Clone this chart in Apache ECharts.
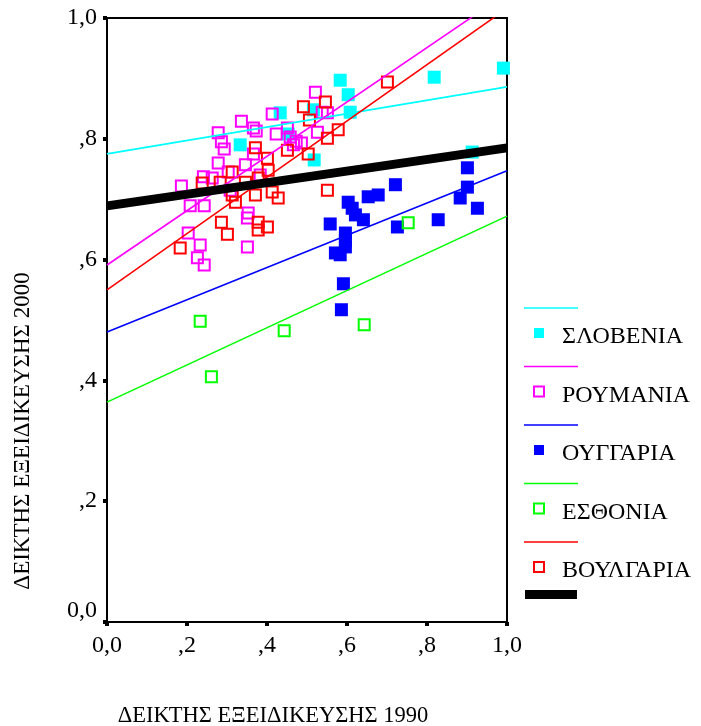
<!DOCTYPE html>
<html>
<head>
<meta charset="utf-8">
<script src="https://cdn.jsdelivr.net/npm/echarts@6/dist/echarts.min.js"></script>
<style>
html,body{margin:0;padding:0;background:#fff;}
#chart{width:701px;height:726px;}
</style>
</head>
<body>
<div id="chart"></div>
<script>
// ---- data ----
const countries = ['ΣΛΟΒΕΝΙΑ', 'ΡΟΥΜΑΝΙΑ', 'ΟΥΓΓΑΡΙΑ', 'ΕΣΘΟΝΙΑ', 'ΒΟΥΛΓΑΡΙΑ'];
const xTitle = 'ΔΕΙΚΤΗΣ ΕΞΕΙΔΙΚΕΥΣΗΣ 1990';
const yTitle = 'ΔΕΙΚΤΗΣ ΕΞΕΙΔΙΚΕΥΣΗΣ 2000';
const xTickLabels = ['0,0', ',2', ',4', ',6', ',8', '1,0'];
const yTickLabels = ['0,0', ',2', ',4', ',6', ',8', '1,0'];

const slovenia = [
  [0.333, 0.790], [0.433, 0.843], [0.453, 0.808], [0.518, 0.765], [0.516, 0.848],
  [0.583, 0.897], [0.603, 0.873], [0.608, 0.844], [0.818, 0.902], [0.913, 0.778],
  [0.991, 0.917]
];
const romania = [
  [0.186, 0.722], [0.208, 0.689], [0.243, 0.689], [0.203, 0.644], [0.233, 0.624],
  [0.226, 0.603], [0.243, 0.591], [0.241, 0.737], [0.278, 0.810], [0.286, 0.795],
  [0.293, 0.783], [0.278, 0.760], [0.303, 0.745], [0.336, 0.829], [0.366, 0.818],
  [0.373, 0.813], [0.346, 0.757], [0.353, 0.677], [0.351, 0.669], [0.351, 0.621],
  [0.383, 0.740], [0.413, 0.841], [0.423, 0.808], [0.451, 0.818], [0.458, 0.803],
  [0.473, 0.796], [0.486, 0.793], [0.521, 0.877], [0.526, 0.811], [0.538, 0.844],
  [0.551, 0.843], [0.308, 0.715], [0.263, 0.735], [0.366, 0.775], [0.466, 0.790]
];
const hungary = [
  [0.901, 0.752], [0.901, 0.720], [0.883, 0.702], [0.926, 0.685], [0.828, 0.666],
  [0.721, 0.724], [0.678, 0.707], [0.653, 0.704], [0.603, 0.695], [0.613, 0.685],
  [0.621, 0.674], [0.641, 0.666], [0.558, 0.659], [0.596, 0.644], [0.596, 0.632],
  [0.596, 0.621], [0.571, 0.611], [0.591, 0.560], [0.586, 0.517], [0.726, 0.654],
  [0.583, 0.608]
];
const estonia = [
  [0.233, 0.498], [0.261, 0.406], [0.443, 0.482], [0.643, 0.492], [0.753, 0.661]
];
const bulgaria = [
  [0.701, 0.894], [0.491, 0.853], [0.546, 0.861], [0.506, 0.831], [0.578, 0.815],
  [0.551, 0.801], [0.451, 0.781], [0.503, 0.775], [0.551, 0.715], [0.401, 0.768],
  [0.371, 0.785], [0.378, 0.735], [0.238, 0.727], [0.283, 0.728], [0.313, 0.745],
  [0.313, 0.707], [0.321, 0.695], [0.371, 0.707], [0.413, 0.712], [0.428, 0.702],
  [0.286, 0.662], [0.301, 0.642], [0.378, 0.662], [0.401, 0.654], [0.378, 0.649],
  [0.183, 0.619], [0.346, 0.728], [0.403, 0.748]
];

// fitted lines (start and end points)
const sloveniaFit = [[0, 0.775], [1, 0.886]];
const romaniaFit = [[0, 0.591], [1, 1.041]];
const hungaryFit = [[0, 0.480], [1, 0.747]];
const estoniaFit = [[0, 0.364], [1, 0.672]];
const bulgariaFit = [[0, 0.550], [1, 1.016]];
const totalFit = [[0, 0.689], [1, 0.785]];

// ---- styling ----
const colors = ['#00ffff', '#ff00ff', '#0000ff', '#00ff00', '#ff0000'];
const filled = [true, false, true, false, false];
const pointSets = [slovenia, romania, hungary, estonia, bulgaria];
const fitSets = [sloveniaFit, romaniaFit, hungaryFit, estoniaFit, bulgariaFit];
const FONT = '"Liberation Serif", "DejaVu Serif", serif';

const series = [];
pointSets.forEach((pts, i) => {
  series.push({
    type: 'scatter',
    name: countries[i],
    data: pts,
    symbol: 'rect',
    symbolSize: filled[i] ? 13 : 11,
    itemStyle: filled[i]
      ? { color: colors[i], opacity: 1 }
      : { color: 'rgba(0,0,0,0)', borderColor: colors[i], borderWidth: 2, opacity: 1 },
    z: 2,
    silent: true
  });
});
fitSets.forEach((f, i) => {
  series.push({
    type: 'line',
    data: f,
    symbol: 'none',
    clip: true,
    lineStyle: { color: colors[i], width: 1.6 },
    z: 3,
    silent: true
  });
});
series.push({
  type: 'line',
  data: totalFit,
  symbol: 'none',
  clip: true,
  lineStyle: { color: '#000', width: 9 },
  z: 4,
  silent: true
});

// legend graphics
const legendGraphics = [];
const legX = 524, legLineW = 54, legY0 = 308, legStep = 58.5;
countries.forEach((c, i) => {
  const ly = legY0 + i * legStep;
  legendGraphics.push({
    type: 'line', shape: { x1: legX, y1: ly, x2: legX + legLineW, y2: ly },
    style: { stroke: colors[i], lineWidth: 1.6 }
  });
  const sy = ly + 25;
  legendGraphics.push({
    type: 'rect', shape: { x: 539 - 5, y: sy - 5, width: 10, height: 10 },
    style: filled[i]
      ? { fill: colors[i] }
      : { fill: 'none', stroke: colors[i], lineWidth: 2 }
  });
  legendGraphics.push({
    type: 'text', x: 562, y: sy + 4,
    style: { text: c, font: '24px ' + FONT, fill: '#000', textVerticalAlign: 'middle', textAlign: 'left' }
  });
});
legendGraphics.push({
  type: 'rect', shape: { x: 525, y: 590, width: 52, height: 9 },
  style: { fill: '#000' }
});

const chart = echarts.init(document.getElementById('chart'), null, { renderer: 'canvas' });
chart.setOption({
  animation: false,
  backgroundColor: '#fff',
  grid: {
    left: 107, top: 18, width: 400, height: 604,
    show: true, borderColor: '#000', borderWidth: 2, backgroundColor: 'transparent'
  },
  xAxis: {
    type: 'value', min: 0, max: 1, interval: 0.2,
    splitLine: { show: false },
    axisLine: { show: true, onZero: false, lineStyle: { color: '#000', width: 2 } },
    axisTick: { show: true, length: 4, lineStyle: { color: '#000', width: 4 } },
    axisLabel: {
      margin: 12, color: '#000', fontFamily: FONT, fontSize: 24,
      formatter: v => xTickLabels[Math.round(v / 0.2)]
    }
  },
  yAxis: {
    type: 'value', min: 0, max: 1, interval: 0.2,
    splitLine: { show: false },
    axisLine: { show: true, onZero: false, lineStyle: { color: '#000', width: 2 } },
    axisTick: { show: true, length: 4, lineStyle: { color: '#000', width: 4 } },
    axisLabel: {
      margin: 10, color: '#000', fontFamily: FONT, fontSize: 24,
      formatter: v => {
        const i = Math.round(v / 0.2);
        return i === 0 ? '{z|' + yTickLabels[i] + '}' : yTickLabels[i];
      },
      rich: { z: { fontFamily: FONT, fontSize: 24, color: '#000', padding: [0, 0, 22, 0] } }
    }
  },
  graphic: [
    {
      type: 'text', x: 273, y: 716,
      style: { text: xTitle, font: '22.5px ' + FONT, fill: '#000', textAlign: 'center', textVerticalAlign: 'middle' }
    },
    {
      type: 'text', x: 23, y: 431, rotation: Math.PI / 2,
      style: { text: yTitle, font: '23px ' + FONT, fill: '#000', textAlign: 'center', textVerticalAlign: 'middle' }
    }
  ].concat(legendGraphics),
  series: series
});
</script>
</body>
</html>
